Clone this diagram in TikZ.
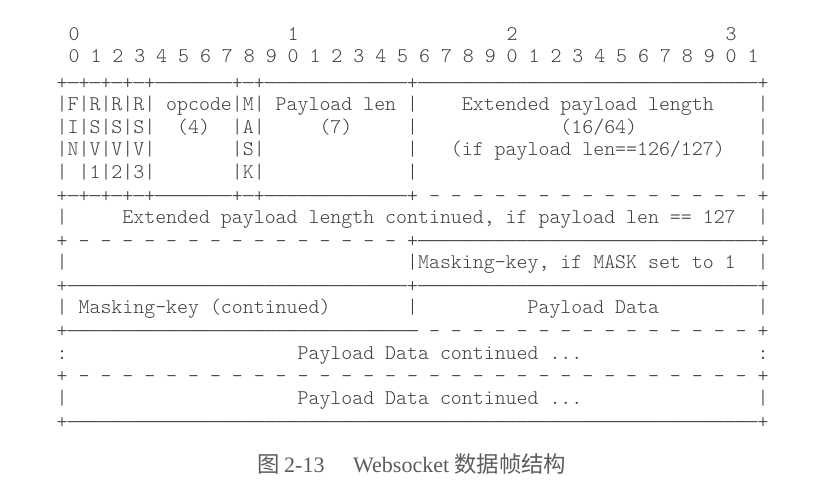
\documentclass[tikz,border=0pt]{standalone}
\usepackage{graphicx}
\usepackage{fontspec}
\newfontfamily\cjkfont{Noto Sans CJK SC}
\newfontfamily\capfont{Liberation Serif}

% one character cell of blank space in the current (monospaced) font
\newcommand\sk[1]{\hskip#1\fontcharwd\font`x\relax}
% a hyphen drawn a little wider, still filling exactly one cell
\newcommand\wdash{\makebox[\fontcharwd\font`x][c]{\scalebox{1.38}[1]{-}}}
\ExplSyntaxOn
% a run of n (wide) hyphens, and a run of n " -" pairs
\cs_new:Npn \dashrun #1 {\prg_replicate:nn{#1}{\wdash}}
\cs_new:Npn \gaprun #1 {\prg_replicate:nn{#1}{\sk{1}-}}
\ExplSyntaxOff

\definecolor{ink}{RGB}{62,62,62}
\definecolor{capink}{RGB}{92,92,92}

\tikzset{
  asciirow/.style={anchor=base west, inner sep=0pt, text=ink,
    font=\ttfamily\fontseries{l}\fontsize{20.86}{24}\selectfont\frenchspacing},
  caplatin/.style={anchor=base west, inner sep=0pt, text=capink,
    font=\capfont\fontsize{22}{26}\selectfont},
  capcjk/.style={anchor=base west, inner sep=0pt, text=capink,
    font=\cjkfont\fontsize{22.4}{26}\selectfont},
}

\begin{document}
\begin{tikzpicture}[x=1pt,y=-1pt]
\fill[white] (0,0) rectangle (839,499);
\useasboundingbox (0,0) rectangle (839,499);

% bit ruler
\node[asciirow] (ruler10) at (57.5,40.4) {\sk{1}0\sk{19}1\sk{19}2\sk{19}3};
\node[asciirow] (ruler1)  at (57.5,62.0) {\sk{1}0 1 2 3 4 5 6 7 8 9 0 1 2 3 4 5 6 7 8 9 0 1 2 3 4 5 6 7 8 9 0 1};

% frame layout
\node[asciirow] (r0)  at (56.5,89.0)  {+\dashrun{1}+\dashrun{1}+\dashrun{1}+\dashrun{1}+\dashrun{7}+\dashrun{1}+\dashrun{13}+\dashrun{31}+};
\node[asciirow] (r1)  at (56.5,110.4) {|F|R|R|R| opcode|M| Payload len |\sk{4}Extended payload length\sk{4}|};
\node[asciirow] (r2)  at (56.5,133.0) {|I|S|S|S|\sk{2}(4)\sk{2}|A|\sk{5}(7)\sk{5}|\sk{13}(16/64)\sk{11}|};
\node[asciirow] (r3)  at (56.5,155.6) {|N|V|V|V|\sk{7}|S|\sk{13}|\sk{3}(if payload len==126/127)\sk{3}|};
\node[asciirow] (r4)  at (56.5,178.2) {| |1|2|3|\sk{7}|K|\sk{13}|\sk{31}|};
\node[asciirow] (r5)  at (56.5,202.0) {+\dashrun{1}+\dashrun{1}+\dashrun{1}+\dashrun{1}+\dashrun{7}+\dashrun{1}+\dashrun{13}+\gaprun{15}\sk{1}+};
\node[asciirow] (r6)  at (56.5,223.4) {|\sk{5}Extended payload length continued, if payload len == 127\sk{2}|};
\node[asciirow] (r7)  at (56.5,247.3) {+\gaprun{15}\sk{1}+\dashrun{31}+};
\node[asciirow] (r8)  at (56.5,268.6) {|\sk{31}|Masking-key, if MASK set to 1\sk{2}|};
\node[asciirow] (r9)  at (56.5,292.5) {+\dashrun{31}+\dashrun{31}+};
\node[asciirow] (r10) at (56.5,313.8) {| Masking-key (continued)\sk{7}|\sk{10}Payload Data\sk{9}|};
\node[asciirow] (r11) at (56.5,337.7) {+\dashrun{32}\gaprun{15}\sk{1}+};
\node[asciirow] (r12) at (56.5,359.0) {:\sk{21}Payload Data continued ...\sk{16}:};
\node[asciirow] (r13) at (56.5,382.9) {+\gaprun{31}\sk{1}+};
\node[asciirow] (r14) at (56.5,404.2) {|\sk{21}Payload Data continued ...\sk{16}|};
\node[asciirow] (r15) at (56.5,428.1) {+\dashrun{63}+};

% caption
\node[capcjk]   (capfig)  at (257,472) {图};
\node[caplatin] (capnum)  at (284,472) {2-13};
\node[caplatin] (capname) at (353,472) {Websocket};
\node[capcjk]   (captext) at (454,472) {数据帧结构};
\end{tikzpicture}
\end{document}
